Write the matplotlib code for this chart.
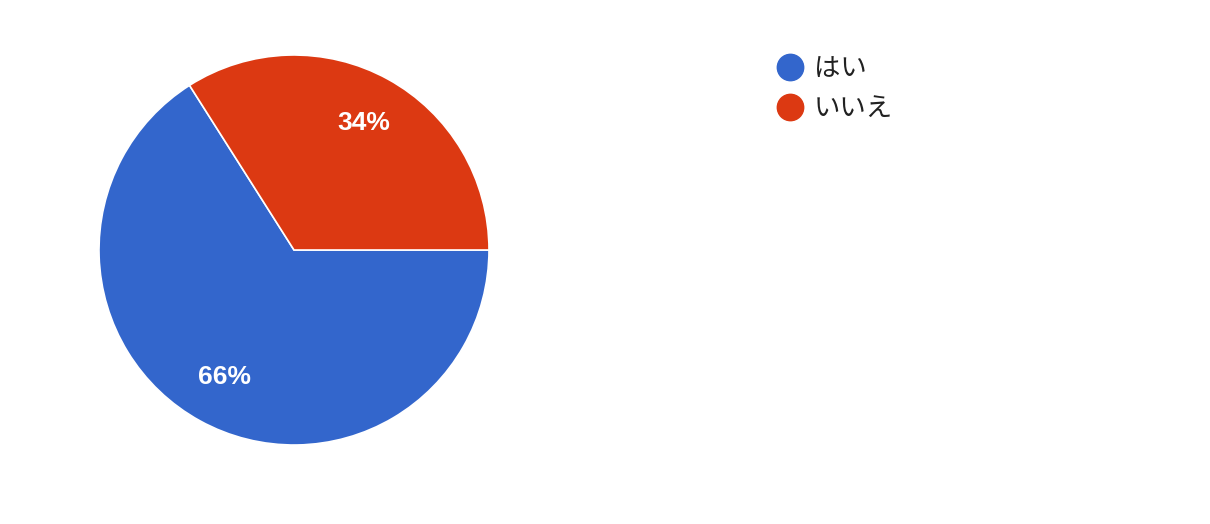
import matplotlib.pyplot as plt
from matplotlib.lines import Line2D

labels = ['はい', 'いいえ']
values = [66, 34]
colors = ['#3366CC', '#DC3912']

fig = plt.figure(figsize=(12.1, 5.24), dpi=100)
# pie centre (294, 250) px, radius 195 px
ax = fig.add_axes([99 / 1210, (524 - 250 - 195) / 524, 390 / 1210, 390 / 524])

wedges, texts, autotexts = ax.pie(
    values, colors=colors, startangle=360 * values[1] / sum(values),
    counterclock=True, autopct='%1.0f%%', pctdistance=0.745,
    wedgeprops=dict(edgecolor='white', linewidth=1.2),
    textprops=dict(color='white', fontsize=19, fontweight='bold',
                   family='Liberation Sans'))
ax.set_xlim(-1, 1)
ax.set_ylim(-1, 1)
ax.set_aspect('equal')
ax.axis('off')

handles = [Line2D([], [], marker='o', linestyle='', markersize=19,
                  markerfacecolor=c, markeredgecolor=c) for c in colors]
leg = fig.legend(handles, labels, loc='upper left', bbox_to_anchor=(0.6223, 0.940),
                 frameon=False, handlelength=1.0, handletextpad=0.4,
                 labelspacing=0.5,
                 prop=dict(family=['Noto Sans CJK JP', 'DejaVu Sans'], size=19))
for t in leg.get_texts():
    t.set_color('#212121')

fig.savefig('out.png', dpi=100)
